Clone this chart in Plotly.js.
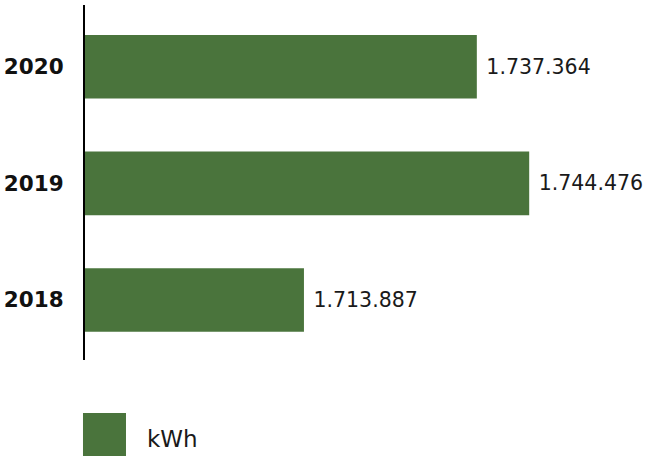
<!DOCTYPE html>
<html>
<head>
<meta charset="utf-8">
<script src="https://cdn.plot.ly/plotly-3.0.1.min.js"></script>
<style>html,body{margin:0;padding:0;background:#fff;}#chart{width:652px;height:456px;}</style>
</head>
<body>
<div id="chart"></div>
<script>
const years = ['2018', '2019', '2020'];
const kwh = [1713887, 1744476, 1737364];
const seriesName = 'kWh';
const barColor = '#4a743c';

function fmt(v) { return String(v).replace(/\B(?=(\d{3})+(?!\d))/g, '.'); }

const trace = {
  type: 'bar',
  orientation: 'h',
  y: years,
  x: kwh,
  name: seriesName,
  marker: { color: barColor },
  text: kwh.map(v => '\u00a0' + fmt(v)),
  textposition: 'outside',
  textfont: { family: 'DejaVu Sans, sans-serif', size: 20.5, color: '#1a1a1a' },
  cliponaxis: false,
  hoverinfo: 'none',
  showlegend: false
};

const layout = {
  width: 652,
  height: 456,
  margin: { l: 85, r: 52, t: 5, b: 96 },
  paper_bgcolor: '#ffffff',
  plot_bgcolor: '#ffffff',
  bargap: 0.455,
  font: { family: 'DejaVu Sans, sans-serif', color: '#111111' },
  xaxis: {
    range: [1684153, 1754090],
    visible: false,
    showgrid: false,
    zeroline: false,
    fixedrange: true
  },
  yaxis: {
    type: 'category',
    range: [-0.515, 2.53],
    showline: true,
    linecolor: '#000000',
    linewidth: 2,
    ticks: '',
    ticklabelstandoff: 15,
    tickfont: { family: 'DejaVu Sans, sans-serif', size: 21.5, color: '#111111', weight: 'bold' },
    showgrid: false,
    zeroline: false,
    fixedrange: true
  },
  shapes: [
    { type: 'rect', xref: 'paper', yref: 'paper', x0: -0.0039, x1: 0.0796, y0: -0.149, y1: -0.272,
      fillcolor: barColor, line: { width: 0 } }
  ],
  annotations: [
    { xref: 'paper', yref: 'paper', x: 0.116, y: -0.222, xanchor: 'left', yanchor: 'middle',
      text: seriesName, showarrow: false,
      font: { family: 'DejaVu Sans, sans-serif', size: 23, color: '#1a1a1a' } }
  ],
  showlegend: false
};

Plotly.newPlot('chart', [trace], layout, { displayModeBar: false, staticPlot: true });
</script>
</body>
</html>
